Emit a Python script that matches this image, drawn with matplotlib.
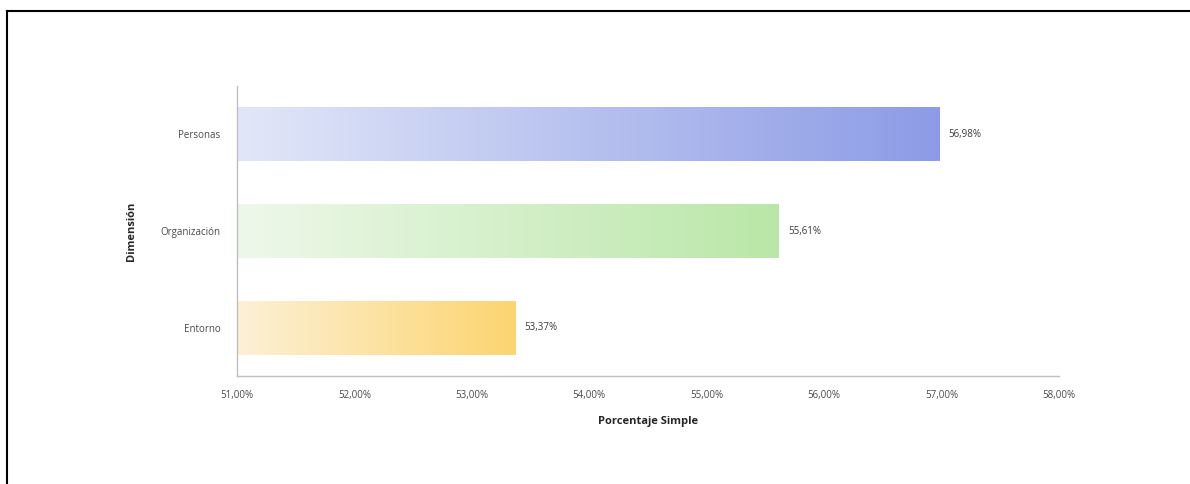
import numpy as np
import matplotlib
matplotlib.use("Agg")
import matplotlib.pyplot as plt
from matplotlib.colors import LinearSegmentedColormap
from matplotlib.lines import Line2D

categories = ["Entorno", "Organización", "Personas"]
values = [53.37, 55.61, 56.98]
bar_colors = [("#fdf1d6", "#fcd470"), ("#eef8ea", "#bae7a8"), ("#e2e7f8", "#8c9be6")]
xticks = [51, 52, 53, 54, 55, 56, 57, 58]

plt.rcParams["font.family"] = ["Open Sans", "DejaVu Sans"]

fig = plt.figure(figsize=(11.9, 4.84), dpi=100)
ax = fig.add_axes([0.1992, 0.2231, 0.6908, 0.5992])

xmin, xmax = 51, 58
ax.set_xlim(xmin, xmax)
ax.set_ylim(-0.5, len(categories) - 0.5)

bar_h = 0.56
bars = ax.barh(range(len(categories)), [v - xmin for v in values], left=xmin,
               height=bar_h, color="none", edgecolor="none")
grad = np.linspace(0, 1, 256).reshape(1, -1)
for bar, (c0, c1), v in zip(bars, bar_colors, values):
    cmap = LinearSegmentedColormap.from_list("g", [c0, c1])
    x0, y0 = bar.get_x(), bar.get_y()
    im = ax.imshow(grad, cmap=cmap, aspect="auto",
                   extent=(x0, x0 + bar.get_width(), y0, y0 + bar.get_height()),
                   zorder=2)
    im.set_clip_path(bar)
    ax.text(v + 0.08, y0 + bar.get_height() / 2, f"{v:.2f}%".replace(".", ","),
            va="center", ha="left", fontsize=7, color="#3a3a3a")

ax.set_xticks(xticks)
ax.set_xticklabels([f"{t:.2f}%".replace(".", ",") for t in xticks],
                   fontsize=7, color="#4a4a4a")
ax.set_yticks(range(len(categories)))
ax.set_yticklabels(categories, fontsize=7, color="#4a4a4a")
ax.tick_params(axis="both", length=0)
ax.tick_params(axis="x", pad=10)
ax.tick_params(axis="y", pad=12)

for s in ["top", "right"]:
    ax.spines[s].set_visible(False)
for s in ["left", "bottom"]:
    ax.spines[s].set_color("#bfbfbf")
    ax.spines[s].set_linewidth(1)

ax.set_xlabel("Porcentaje Simple", fontsize=8, fontweight="bold", color="#262626",
              labelpad=11)
ax.set_ylabel("Dimensión", fontsize=8, fontweight="bold", color="#262626",
              labelpad=17)

# outer frame: top and left edges only
fig.add_artist(Line2D([7 / 1190, 7 / 1190], [0, 1 - 11 / 484],
                      transform=fig.transFigure, color="black", lw=1.5))
fig.add_artist(Line2D([7 / 1190, 1], [1 - 11 / 484, 1 - 11 / 484],
                      transform=fig.transFigure, color="black", lw=1.5))

fig.savefig("out.png", dpi=100)
